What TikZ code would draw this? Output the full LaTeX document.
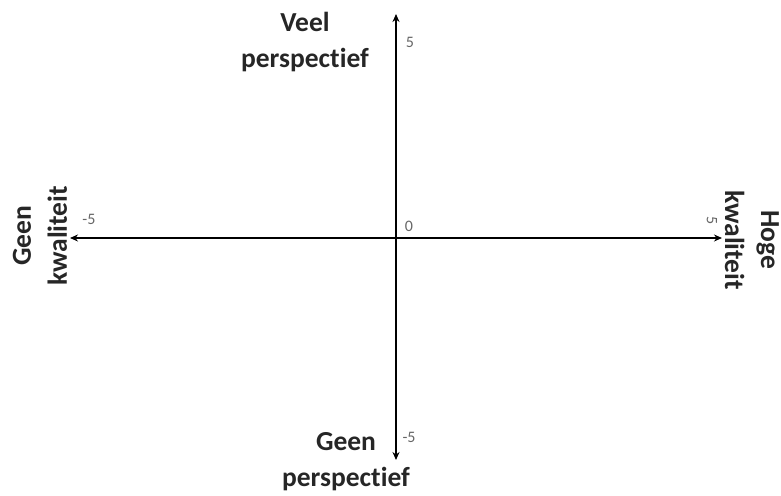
\documentclass[tikz,border=0pt]{standalone}
\usepackage{fontspec}
\setmainfont[Ligatures=NoCommon]{Carlito}
\usetikzlibrary{arrows.meta}
\begin{document}
\begin{tikzpicture}[x=1pt,y=-1pt,
  axis/.style={line width=1.4pt,-{Stealth[length=8pt,width=7pt]}},
  lab/.style={font=\bfseries\fontsize{27.5}{36}\selectfont,align=center,text=black!85},
  num/.style={font=\fontsize{16}{16}\selectfont,text=black!60,inner sep=0pt}]
\useasboundingbox (0,0) rectangle (781,495);
\coordinate (O) at (396,238);
\coordinate (top) at (396,14);
\coordinate (bot) at (396,460);
\coordinate (left) at (70,238);
\coordinate (right) at (722,238);
\draw[axis] (O) -- (top);
\draw[axis] (O) -- (bot);
\draw[axis] (O) -- (left);
\draw[axis] (O) -- (right);
\node[lab] (veel) at (305,42) {Veel\\perspectief};
\node[lab] (geenp) at (346,462) {Geen\\perspectief};
\node[lab,rotate=90] (geenk) at (40,236) {Geen\\kwaliteit};
\node[lab,rotate=-90] (hoge) at (752,240) {Hoge\\kwaliteit};
\node[num] (n5t) at (410,42) {5};
\node[num] (n0) at (409,226) {0};
\node[num] (n5l) at (89,219) {-5};
\node[num,rotate=-90] (n5r) at (712,221) {5};
\node[num] (n5b) at (409,437) {-5};
\end{tikzpicture}
\end{document}
